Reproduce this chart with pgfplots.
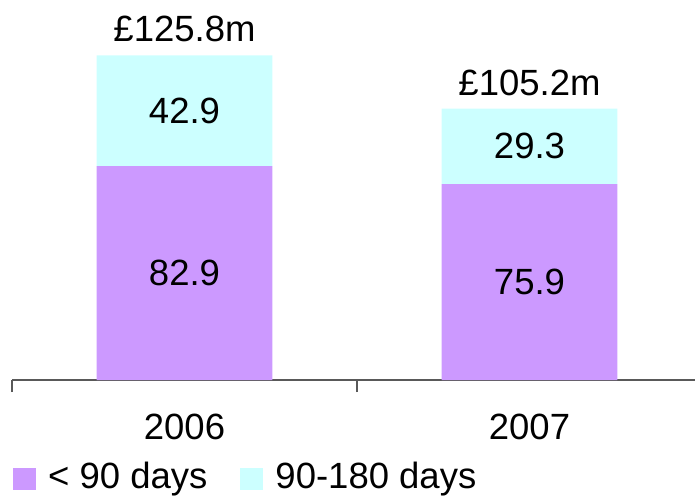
\documentclass[border=0pt]{standalone}
\usepackage{pgfplots}
\pgfplotsset{compat=1.18}
\usepackage{fontspec}
\setmainfont{Liberation Sans}
\definecolor{lpurple}{HTML}{CC99FF}
\definecolor{lcyan}{HTML}{CCFFFF}
\pgfplotsset{sqlegend/.style={legend image code/.code={\fill[##1] (0bp,-14bp) rectangle (23bp,8bp);}}}
\newcommand{\bigf}{\fontsize{36.5bp}{43bp}\selectfont}
\begin{document}
\begin{tikzpicture}
\begin{axis}[
 scale only axis, width=683bp, height=380bp,
 xmin=-0.5, xmax=1.4797, ymin=0, ymax=147.3,
 ybar stacked, bar width=0.51,
 hide y axis, axis x line*=bottom,
 axis line style={black!65, line width=1.2bp},
 xtick={0,1}, xticklabels={2006,2007}, major tick length=0pt,
 extra x ticks={-0.5,0.5}, extra x tick labels={},
 extra x tick style={major tick length=12bp, tick align=outside, tick style={black!65,line width=1.2bp}},
 xticklabel style={font=\bigf, yshift=-30bp},
 legend columns=2,
 legend style={at={(rel axis cs:0,0)}, anchor=west, xshift=1bp, yshift=-96bp, draw=none, fill=none, inner sep=0pt,
   font=\bigf,
   /tikz/every odd column/.append style={column sep=10bp},
   /tikz/every even column/.append style={column sep=31bp}},
 clip=false,
]
\addplot[fill=lpurple, draw=none, sqlegend] coordinates {(0,82.9) (1,75.9)};
\addplot[fill=lcyan, draw=none, sqlegend] coordinates {(0,42.9) (1,29.3)};
\legend{{< 90 days},{90-180 days}}
\coordinate (a1) at (axis cs:0,41.45);
\coordinate (a2) at (axis cs:0,104.35);
\coordinate (b1) at (axis cs:1,37.95);
\coordinate (b2) at (axis cs:1,90.55);
\coordinate (at) at (axis cs:0,125.8);
\coordinate (bt) at (axis cs:1,105.2);
\coordinate (o) at (rel axis cs:0,0);
\end{axis}
\node[font=\bigf] at (a1) {82.9};
\node[font=\bigf] at (a2) {42.9};
\node[font=\bigf] at (b1) {75.9};
\node[font=\bigf] at (b2) {29.3};
\node[font=\bigf, anchor=south, yshift=10bp] at (at) {£125.8m};
\node[font=\bigf, anchor=south, yshift=9bp] at (bt) {£105.2m};
\pgfresetboundingbox
\path[use as bounding box] ([shift={(-12bp,-119bp)}]o) rectangle ([shift={(683bp,380bp)}]o);
\end{tikzpicture}
\end{document}
